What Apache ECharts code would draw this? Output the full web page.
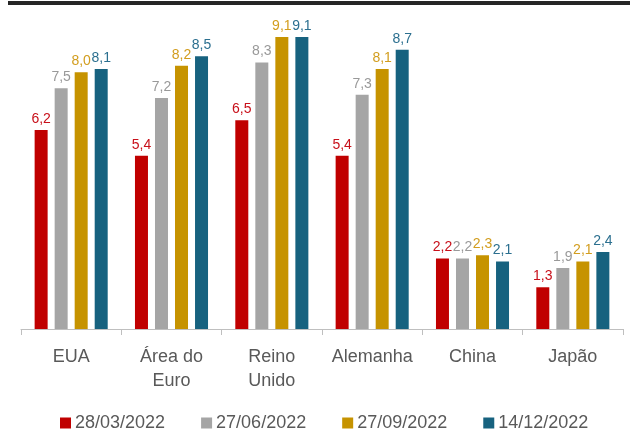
<!DOCTYPE html>
<html>
<head>
<meta charset="utf-8">
<script src="https://cdn.jsdelivr.net/npm/echarts@6/dist/echarts.min.js"></script>
<style>
  html, body { margin: 0; padding: 0; background: #fff; }
  #chart { width: 630px; height: 432px; }
</style>
</head>
<body>
<div id="chart"></div>
<script>
const categories = ['EUA', 'Área do\nEuro', 'Reino\nUnido', 'Alemanha', 'China', 'Japão']
const seriesNames = ['28/03/2022', '27/06/2022', '27/09/2022', '14/12/2022']
const mar28 = [6.2, 5.4, 6.5, 5.4, 2.2, 1.3]
const jun27 = [7.5, 7.2, 8.3, 7.3, 2.2, 1.9]
const sep27 = [8.0, 8.2, 9.1, 8.1, 2.3, 2.1]
const dec14 = [8.1, 8.5, 9.1, 8.7, 2.1, 2.4]

const barColors = ['#c00000', '#a5a5a5', '#c69300', '#17627f']
const labelColors = ['#c8101a', '#999999', '#d29d1e', '#2b6f8f']
const font = 'Liberation Sans'

const makeSeries = (name, data, i) => ({
  name,
  type: 'bar',
  data,
  barWidth: 13,
  barGap: '54%',
  itemStyle: { color: barColors[i] },
  label: {
    show: true,
    position: 'top',
    distance: 4,
    color: labelColors[i],
    fontFamily: font,
    fontSize: 14,
    formatter: p => p.value.toFixed(1).replace('.', ',')
  }
})

const chart = echarts.init(document.getElementById('chart'))
chart.setOption({
  animation: false,
  textStyle: { fontFamily: font },
  graphic: [{
    type: 'rect',
    shape: { x: 8, y: 1, width: 622, height: 4 },
    style: { fill: '#262626' }
  }],
  grid: { left: 21, right: 7, top: 8, bottom: 103 },
  legend: {
    bottom: -5,
    left: 55,
    itemWidth: 11,
    itemHeight: 11,
    itemGap: 36,
    icon: 'rect',
    textStyle: { color: '#595959', fontSize: 18, fontFamily: font, padding: [0, 0, 0, -1] },
    data: seriesNames
  },
  xAxis: {
    type: 'category',
    data: categories,
    axisLine: { lineStyle: { color: '#bfbfbf' } },
    axisTick: { show: true, length: 6, lineStyle: { color: '#bfbfbf' } },
    axisLabel: {
      color: '#595959',
      fontSize: 18,
      fontFamily: font,
      lineHeight: 24,
      margin: 16,
      interval: 0
    }
  },
  yAxis: {
    type: 'value',
    min: 0,
    max: 10,
    show: false,
    splitLine: { show: false }
  },
  series: [
    makeSeries(seriesNames[0], mar28, 0),
    makeSeries(seriesNames[1], jun27, 1),
    makeSeries(seriesNames[2], sep27, 2),
    makeSeries(seriesNames[3], dec14, 3)
  ]
})
</script>
</body>
</html>
